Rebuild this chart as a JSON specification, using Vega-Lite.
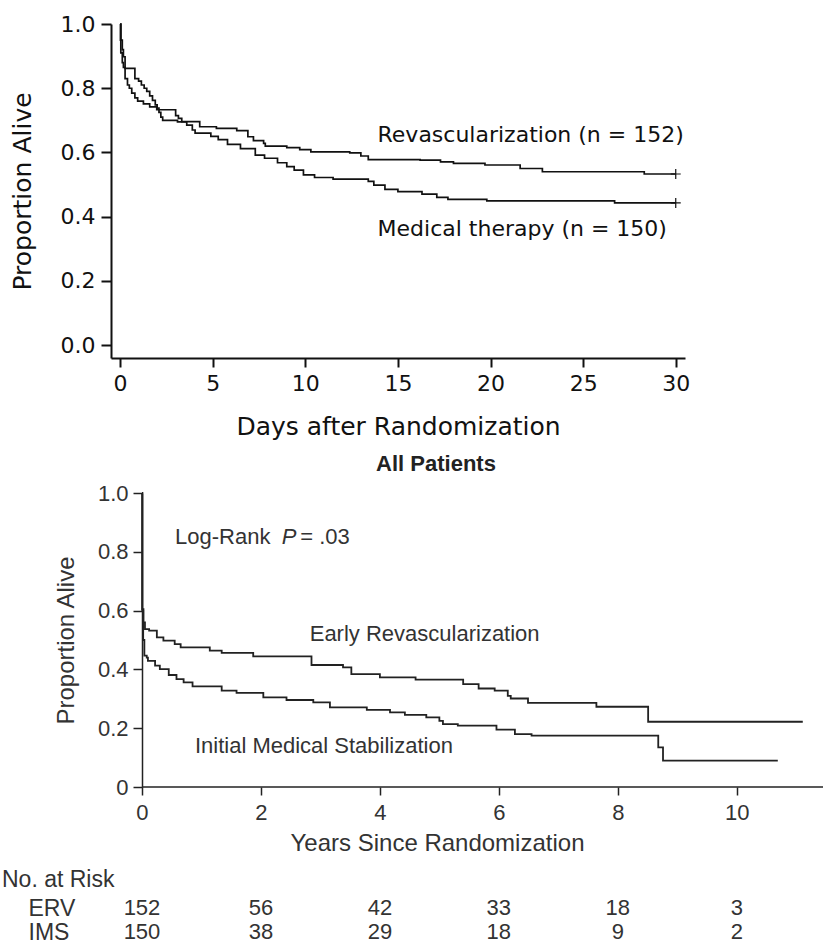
{
  "$schema": "https://vega.github.io/schema/vega-lite/v6.json",
  "background": "white",
  "padding": {"left": 2, "top": 13, "right": 0, "bottom": 0},
  "spacing": 14,
  "config": {"view": {"stroke": null}, "axis": {"grid": false}},
  "datasets": {
    "days30": [
      {"arm": "Revascularization", "day": 0, "prop": 1.0},
      {"arm": "Revascularization", "day": 0.02, "prop": 0.95},
      {"arm": "Revascularization", "day": 0.04, "prop": 0.91},
      {"arm": "Revascularization", "day": 0.12, "prop": 0.88},
      {"arm": "Revascularization", "day": 0.18, "prop": 0.865},
      {"arm": "Revascularization", "day": 0.27, "prop": 0.83},
      {"arm": "Revascularization", "day": 0.4, "prop": 0.81},
      {"arm": "Revascularization", "day": 0.5, "prop": 0.8},
      {"arm": "Revascularization", "day": 0.63, "prop": 0.785},
      {"arm": "Revascularization", "day": 0.8, "prop": 0.77},
      {"arm": "Revascularization", "day": 0.95, "prop": 0.76},
      {"arm": "Revascularization", "day": 1.26, "prop": 0.751},
      {"arm": "Revascularization", "day": 1.6, "prop": 0.742},
      {"arm": "Revascularization", "day": 1.98, "prop": 0.733},
      {"arm": "Revascularization", "day": 3.0, "prop": 0.715},
      {"arm": "Revascularization", "day": 3.15, "prop": 0.706},
      {"arm": "Revascularization", "day": 3.33, "prop": 0.696},
      {"arm": "Revascularization", "day": 4.3, "prop": 0.68},
      {"arm": "Revascularization", "day": 5.2, "prop": 0.675},
      {"arm": "Revascularization", "day": 6.3, "prop": 0.668},
      {"arm": "Revascularization", "day": 6.9, "prop": 0.649},
      {"arm": "Revascularization", "day": 7.2, "prop": 0.637},
      {"arm": "Revascularization", "day": 7.75, "prop": 0.628},
      {"arm": "Revascularization", "day": 7.84, "prop": 0.62},
      {"arm": "Revascularization", "day": 9.0, "prop": 0.615},
      {"arm": "Revascularization", "day": 9.7, "prop": 0.609},
      {"arm": "Revascularization", "day": 10.3, "prop": 0.602},
      {"arm": "Revascularization", "day": 12.4, "prop": 0.599},
      {"arm": "Revascularization", "day": 13.0, "prop": 0.589},
      {"arm": "Revascularization", "day": 13.4, "prop": 0.578},
      {"arm": "Revascularization", "day": 16.2, "prop": 0.576},
      {"arm": "Revascularization", "day": 17.3, "prop": 0.571},
      {"arm": "Revascularization", "day": 18.0, "prop": 0.566},
      {"arm": "Revascularization", "day": 19.7, "prop": 0.561},
      {"arm": "Revascularization", "day": 21.6, "prop": 0.55},
      {"arm": "Revascularization", "day": 22.8, "prop": 0.54},
      {"arm": "Revascularization", "day": 28.3, "prop": 0.533},
      {"arm": "Revascularization", "day": 30, "prop": 0.533},
      {"arm": "Medical therapy", "day": 0, "prop": 1.0},
      {"arm": "Medical therapy", "day": 0.05, "prop": 0.95},
      {"arm": "Medical therapy", "day": 0.12, "prop": 0.92},
      {"arm": "Medical therapy", "day": 0.18, "prop": 0.898},
      {"arm": "Medical therapy", "day": 0.27, "prop": 0.862},
      {"arm": "Medical therapy", "day": 0.8, "prop": 0.83},
      {"arm": "Medical therapy", "day": 1.0, "prop": 0.822},
      {"arm": "Medical therapy", "day": 1.15, "prop": 0.81},
      {"arm": "Medical therapy", "day": 1.3, "prop": 0.8},
      {"arm": "Medical therapy", "day": 1.44, "prop": 0.79},
      {"arm": "Medical therapy", "day": 1.6, "prop": 0.776},
      {"arm": "Medical therapy", "day": 1.75, "prop": 0.762},
      {"arm": "Medical therapy", "day": 1.9, "prop": 0.748},
      {"arm": "Medical therapy", "day": 2.0, "prop": 0.738},
      {"arm": "Medical therapy", "day": 2.1, "prop": 0.725},
      {"arm": "Medical therapy", "day": 2.2, "prop": 0.71},
      {"arm": "Medical therapy", "day": 2.3, "prop": 0.7},
      {"arm": "Medical therapy", "day": 3.1, "prop": 0.695},
      {"arm": "Medical therapy", "day": 3.6, "prop": 0.685},
      {"arm": "Medical therapy", "day": 3.9, "prop": 0.67},
      {"arm": "Medical therapy", "day": 4.05, "prop": 0.66},
      {"arm": "Medical therapy", "day": 4.9, "prop": 0.65},
      {"arm": "Medical therapy", "day": 5.3, "prop": 0.64},
      {"arm": "Medical therapy", "day": 5.8, "prop": 0.625},
      {"arm": "Medical therapy", "day": 6.5, "prop": 0.612},
      {"arm": "Medical therapy", "day": 7.3, "prop": 0.592},
      {"arm": "Medical therapy", "day": 7.8, "prop": 0.582},
      {"arm": "Medical therapy", "day": 8.5, "prop": 0.568},
      {"arm": "Medical therapy", "day": 9.0, "prop": 0.556},
      {"arm": "Medical therapy", "day": 9.4, "prop": 0.545},
      {"arm": "Medical therapy", "day": 9.9, "prop": 0.53},
      {"arm": "Medical therapy", "day": 10.5, "prop": 0.522},
      {"arm": "Medical therapy", "day": 11.5, "prop": 0.517},
      {"arm": "Medical therapy", "day": 13.4, "prop": 0.51},
      {"arm": "Medical therapy", "day": 13.7, "prop": 0.498},
      {"arm": "Medical therapy", "day": 14.3, "prop": 0.485},
      {"arm": "Medical therapy", "day": 15.0, "prop": 0.478},
      {"arm": "Medical therapy", "day": 16.3, "prop": 0.47},
      {"arm": "Medical therapy", "day": 17.1, "prop": 0.46},
      {"arm": "Medical therapy", "day": 17.7, "prop": 0.454},
      {"arm": "Medical therapy", "day": 19.8, "prop": 0.449},
      {"arm": "Medical therapy", "day": 26.7, "prop": 0.443},
      {"arm": "Medical therapy", "day": 30, "prop": 0.443}
    ],
    "topLabels": [
      {"label": "Revascularization (n = 152)", "day": 13.9, "prop": 0.654},
      {"label": "Medical therapy (n = 150)", "day": 13.9, "prop": 0.361}
    ],
    "years": [
      {"arm": "ERV", "yr": 0, "prop": 1.0},
      {"arm": "ERV", "yr": 0.005, "prop": 0.605},
      {"arm": "ERV", "yr": 0.025, "prop": 0.56},
      {"arm": "ERV", "yr": 0.05, "prop": 0.537},
      {"arm": "ERV", "yr": 0.12, "prop": 0.532},
      {"arm": "ERV", "yr": 0.25, "prop": 0.509},
      {"arm": "ERV", "yr": 0.36, "prop": 0.498},
      {"arm": "ERV", "yr": 0.55, "prop": 0.486},
      {"arm": "ERV", "yr": 0.65, "prop": 0.475},
      {"arm": "ERV", "yr": 1.14, "prop": 0.464},
      {"arm": "ERV", "yr": 1.34, "prop": 0.456},
      {"arm": "ERV", "yr": 1.87, "prop": 0.444},
      {"arm": "ERV", "yr": 2.85, "prop": 0.415},
      {"arm": "ERV", "yr": 3.38, "prop": 0.407},
      {"arm": "ERV", "yr": 3.52, "prop": 0.384},
      {"arm": "ERV", "yr": 4.0, "prop": 0.373},
      {"arm": "ERV", "yr": 4.6, "prop": 0.365},
      {"arm": "ERV", "yr": 5.4, "prop": 0.35},
      {"arm": "ERV", "yr": 5.66, "prop": 0.335},
      {"arm": "ERV", "yr": 5.93, "prop": 0.328},
      {"arm": "ERV", "yr": 6.15, "prop": 0.31},
      {"arm": "ERV", "yr": 6.2, "prop": 0.301},
      {"arm": "ERV", "yr": 6.49, "prop": 0.286},
      {"arm": "ERV", "yr": 7.64, "prop": 0.273},
      {"arm": "ERV", "yr": 8.51, "prop": 0.222},
      {"arm": "ERV", "yr": 11.11, "prop": 0.222},
      {"arm": "IMS", "yr": 0, "prop": 1.0},
      {"arm": "IMS", "yr": 0.005, "prop": 0.6},
      {"arm": "IMS", "yr": 0.02, "prop": 0.5},
      {"arm": "IMS", "yr": 0.04, "prop": 0.447},
      {"arm": "IMS", "yr": 0.08, "prop": 0.44},
      {"arm": "IMS", "yr": 0.1, "prop": 0.429},
      {"arm": "IMS", "yr": 0.22, "prop": 0.413},
      {"arm": "IMS", "yr": 0.3, "prop": 0.401},
      {"arm": "IMS", "yr": 0.45, "prop": 0.381},
      {"arm": "IMS", "yr": 0.58, "prop": 0.367},
      {"arm": "IMS", "yr": 0.7, "prop": 0.356},
      {"arm": "IMS", "yr": 0.85, "prop": 0.342},
      {"arm": "IMS", "yr": 1.34, "prop": 0.328},
      {"arm": "IMS", "yr": 1.59, "prop": 0.32},
      {"arm": "IMS", "yr": 2.04, "prop": 0.305},
      {"arm": "IMS", "yr": 2.43, "prop": 0.296},
      {"arm": "IMS", "yr": 2.88, "prop": 0.288},
      {"arm": "IMS", "yr": 3.16, "prop": 0.271},
      {"arm": "IMS", "yr": 3.78, "prop": 0.262},
      {"arm": "IMS", "yr": 4.17, "prop": 0.254},
      {"arm": "IMS", "yr": 4.42, "prop": 0.245},
      {"arm": "IMS", "yr": 4.78, "prop": 0.237},
      {"arm": "IMS", "yr": 5.0, "prop": 0.225},
      {"arm": "IMS", "yr": 5.06, "prop": 0.214},
      {"arm": "IMS", "yr": 5.31, "prop": 0.209},
      {"arm": "IMS", "yr": 5.96, "prop": 0.195},
      {"arm": "IMS", "yr": 6.27, "prop": 0.18},
      {"arm": "IMS", "yr": 6.55, "prop": 0.175},
      {"arm": "IMS", "yr": 8.68, "prop": 0.135},
      {"arm": "IMS", "yr": 8.76, "prop": 0.09},
      {"arm": "IMS", "yr": 10.69, "prop": 0.09}
    ],
    "bottomLabels": [
      {"label": "Early Revascularization", "yr": 2.82, "prop": 0.52},
      {"label": "Initial Medical Stabilization", "yr": 0.89, "prop": 0.14}
    ],
    "atrisk": [
      {"grp": "ERV", "yr": 0, "n": 152},
      {"grp": "ERV", "yr": 2, "n": 56},
      {"grp": "ERV", "yr": 4, "n": 42},
      {"grp": "ERV", "yr": 6, "n": 33},
      {"grp": "ERV", "yr": 8, "n": 18},
      {"grp": "ERV", "yr": 10, "n": 3},
      {"grp": "IMS", "yr": 0, "n": 150},
      {"grp": "IMS", "yr": 2, "n": 38},
      {"grp": "IMS", "yr": 4, "n": 29},
      {"grp": "IMS", "yr": 6, "n": 18},
      {"grp": "IMS", "yr": 8, "n": 9},
      {"grp": "IMS", "yr": 10, "n": 2}
    ]
  },
  "vconcat": [
    {
      "width": 574,
      "height": 334,
      "layer": [
        {
          "data": {"name": "days30"},
          "mark": {"type": "line", "interpolate": "step-after", "color": "#111", "strokeWidth": 1.7},
          "encoding": {
            "x": {"field": "day", "type": "quantitative",
              "scale": {"domain": [-0.49, 30.5], "nice": false, "zero": false},
              "axis": {"values": [0, 5, 10, 15, 20, 25, 30], "title": "Days after Randomization",
                "domainColor": "#111", "domainWidth": 2, "tickColor": "#111", "tickWidth": 2, "tickSize": 9,
                "labelFont": "DejaVu Sans", "labelFontSize": 22, "labelColor": "#111", "labelPadding": 6, "labelFlush": false,
                "titleFont": "DejaVu Sans", "titleFontSize": 25, "titleFontWeight": "normal", "titleColor": "#111", "titlePadding": 20}},
            "y": {"field": "prop", "type": "quantitative",
              "scale": {"domain": [-0.04, 1.0], "nice": false, "zero": false},
              "axis": {"values": [0, 0.2, 0.4, 0.6, 0.8, 1.0], "format": ".1f", "title": "Proportion Alive",
                "domainColor": "#111", "domainWidth": 2, "tickColor": "#111", "tickWidth": 2, "tickSize": 10,
                "labelFont": "DejaVu Sans", "labelFontSize": 22, "labelColor": "#111", "labelPadding": 6, "labelFlush": false,
                "titleFont": "DejaVu Sans", "titleFontSize": 25, "titleFontWeight": "normal", "titleColor": "#111", "titlePadding": 25}},
            "detail": {"field": "arm"}
          }
        },
        {
          "data": {"name": "days30"},
          "transform": [{"filter": "datum.day >= 30"}],
          "mark": {"type": "point", "shape": "M-1,0H1M0,-1V1", "filled": false, "color": "#111", "strokeWidth": 1.2, "size": 100, "opacity": 1},
          "encoding": {
            "x": {"field": "day", "type": "quantitative"},
            "y": {"field": "prop", "type": "quantitative"}
          }
        },
        {
          "data": {"name": "topLabels"},
          "mark": {"type": "text", "align": "left", "baseline": "middle", "font": "DejaVu Sans", "fontSize": 22, "color": "#111"},
          "encoding": {
            "x": {"field": "day", "type": "quantitative"},
            "y": {"field": "prop", "type": "quantitative"},
            "text": {"field": "label"}
          }
        }
      ]
    },
    {
      "width": 712,
      "height": 294,
      "title": {"text": "All Patients", "font": "Liberation Sans", "fontSize": 22, "fontWeight": "bold", "color": "#222", "anchor": "middle", "frame": "group", "dx": -31, "offset": 6},
      "layer": [
        {
          "data": {"name": "years"},
          "mark": {"type": "line", "interpolate": "step-after", "color": "#222", "strokeWidth": 1.8},
          "encoding": {
            "x": {"field": "yr", "type": "quantitative",
              "scale": {"domain": [-0.521, 11.45], "nice": false, "zero": false},
              "axis": {"values": [0, 2, 4, 6, 8, 10], "format": "d", "title": "Years Since Randomization", "domain": false,
                "tickColor": "#222", "tickWidth": 1.5, "tickSize": 8,
                "labelFont": "Liberation Sans", "labelFontSize": 22, "labelColor": "#333", "labelPadding": 7, "labelFlush": false,
                "titleFont": "Liberation Sans", "titleFontSize": 24, "titleFontWeight": "normal", "titleColor": "#333", "titlePadding": 8, "titleX": 326}},
            "y": {"field": "prop", "type": "quantitative",
              "scale": {"domain": [0, 1], "nice": false},
              "axis": {"values": [0, 0.2, 0.4, 0.6, 0.8, 1.0], "labelExpr": "datum.value == 0 ? '0' : format(datum.value, '.1f')", "title": "Proportion Alive", "offset": -31,
                "domainColor": "#222", "domainWidth": 1.5, "tickColor": "#222", "tickWidth": 1.5, "tickSize": 9,
                "labelFont": "Liberation Sans", "labelFontSize": 22, "labelColor": "#333", "labelPadding": 5, "labelFlush": false,
                "titleFont": "Liberation Sans", "titleFontSize": 24, "titleFontWeight": "normal", "titleColor": "#333", "titlePadding": 19}},
            "detail": {"field": "arm"}
          }
        },
        {
          "data": {"values": [{}]},
          "mark": {"type": "rule", "color": "#222", "strokeWidth": 1.5},
          "encoding": {"x": {"datum": 0}, "x2": {"datum": 11.45}, "y": {"datum": 0}}
        },
        {
          "data": {"name": "bottomLabels"},
          "mark": {"type": "text", "align": "left", "baseline": "middle", "font": "Liberation Sans", "fontSize": 22, "color": "#333"},
          "encoding": {
            "x": {"field": "yr", "type": "quantitative"},
            "y": {"field": "prop", "type": "quantitative"},
            "text": {"field": "label"}
          }
        },
        {
          "data": {"values": [{}]},
          "mark": {"type": "text", "align": "left", "baseline": "middle", "font": "Liberation Sans", "fontSize": 22, "color": "#333"},
          "encoding": {"x": {"datum": 0.555}, "y": {"datum": 0.85}, "text": {"value": "Log-Rank"}}
        },
        {
          "data": {"values": [{}]},
          "mark": {"type": "text", "align": "left", "baseline": "middle", "font": "Liberation Sans", "fontSize": 22, "fontStyle": "italic", "color": "#333"},
          "encoding": {"x": {"datum": 2.35}, "y": {"datum": 0.85}, "text": {"value": "P"}}
        },
        {
          "data": {"values": [{}]},
          "mark": {"type": "text", "align": "left", "baseline": "middle", "font": "Liberation Sans", "fontSize": 22, "color": "#333"},
          "encoding": {"x": {"datum": 2.66}, "y": {"datum": 0.85}, "text": {"value": "= .03"}}
        }
      ]
    },
    {
      "width": 712,
      "height": 48,
      "title": {"text": "No. at Risk", "anchor": "start", "frame": "group", "dx": -109, "font": "Liberation Sans", "fontSize": 23, "fontWeight": "normal", "color": "#333", "offset": 4},
      "data": {"name": "atrisk"},
      "mark": {"type": "text", "font": "Liberation Sans", "fontSize": 22, "color": "#333", "baseline": "middle"},
      "encoding": {
        "x": {"field": "yr", "type": "quantitative", "scale": {"domain": [-0.521, 11.45], "nice": false, "zero": false}, "axis": null},
        "y": {"field": "grp", "type": "nominal", "scale": {"domain": ["ERV", "IMS"]},
          "axis": {"title": null, "domain": false, "ticks": false, "tickSize": 0, "labelAlign": "left", "labelPadding": 83,
            "labelFont": "Liberation Sans", "labelFontSize": 23, "labelColor": "#333"}},
        "text": {"field": "n"}
      }
    }
  ]
}
